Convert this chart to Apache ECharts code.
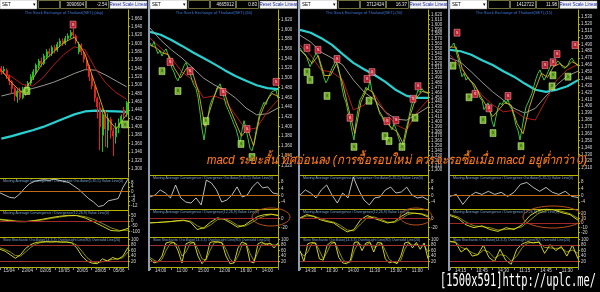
<!DOCTYPE html>
<html><head><meta charset="utf-8">
<script src="https://cdn.jsdelivr.net/npm/echarts@6/dist/echarts.min.js"></script>
<style>html,body{margin:0;padding:0;background:#000}#c{width:600px;height:292px}</style>
</head><body><div id="c"></div>
<script>
// ---------- DATA ----------
const mainTitles = ['The Stock Exchange of Thailand(SET),(day)','The Stock Exchange of Thailand(SET),(60)','The Stock Exchange of Thailand(SET),(30)','The Stock Exchange of Thailand(SET),(15)'];
const subTitles = ['Moving Average Convergence / Divergence Oscillator(5,35,5) Value Line(0)','Moving Average Convergence / Divergence(12,26,9) Value Line(0)','Slow Stochastic Oscillator(14,3,3) Overbought Line(80) Oversold Line(20)'];
const hdrVol = ['3090604','4665912','3712424','1412722'];
const hdrChg = ['-2.54','0.83','16.37','11.98'];
const noteText = 'macd ระยะสั้น ทิศอ่อนลง (การซื้อรอบใหม่ ควรจะรอซื้อเมื่อ macd อยู่ต่ำกว่า 0)';
const stampText = '[1500x591]http://uplc.me/';

// panel 1 (daily): [open, close, low, high]
const p1Ohlc = [[1540,1532,1525,1546],[1534,1538,1528,1545],[1536,1522,1515,1540],[1522,1510,1500,1526],[1508,1492,1480,1512],[1492,1475,1462,1496],[1472,1486,1458,1490],[1486,1470,1464,1494],[1470,1490,1466,1496],[1490,1482,1474,1500],[1482,1505,1478,1510],[1505,1520,1500,1526],[1518,1532,1512,1538],[1530,1548,1526,1552],[1546,1558,1540,1563],[1558,1552,1544,1566],[1552,1570,1548,1575],[1568,1580,1562,1586],[1580,1576,1568,1588],[1576,1590,1570,1595],[1590,1584,1576,1596],[1584,1598,1580,1604],[1598,1606,1592,1612],[1606,1600,1594,1612],[1600,1612,1596,1618],[1612,1618,1606,1624],[1618,1626,1612,1632],[1626,1620,1612,1636],[1618,1606,1598,1622],[1580,1598,1574,1604],[1596,1580,1572,1600],[1578,1562,1554,1582],[1560,1546,1538,1566],[1544,1520,1510,1548],[1520,1498,1490,1526],[1496,1470,1460,1500],[1468,1448,1420,1472],[1446,1400,1344,1460],[1380,1430,1340,1444],[1428,1395,1352,1440],[1392,1420,1350,1432],[1418,1392,1372,1424],[1390,1378,1330,1398],[1376,1400,1360,1410],[1398,1410,1385,1420],[1408,1425,1398,1430],[1440,1430,1420,1448],[1430,1457.9,1424,1462]];
const p1Fast = [1536,1505,1482,1515,1555,1580,1602,1615,1575,1500,1425,1395,1430];
const p1Red  = [1530,1520,1502,1498,1518,1548,1574,1592,1585,1540,1505,1482,1466];
const p1Grey = [1474,1480,1486,1492,1499,1507,1517,1528,1537,1536,1524,1510,1496];
const p1Cyan = [1372,1378,1385,1392,1400,1410,1420,1430,1437,1439,1438,1437,1436];
const p1Buy  = [[9.6,1486],[46.4,1406]];
const p1Sell = [[26.9,1645]];
const p1Osc  = [-1,-3,-5,-5.5,-2,3,7,9,10,10.5,10,11,10,9,8,5,2,-2,-6,-9,-13,-12,-8,-7,-6,4,11];
const p1MacdA = [10,2,-8,-8,2,15,30,42,50,48,25,-10,-50,-90,-95,-70];
const p1MacdB = [15,8,-2,-6,-2,8,22,35,45,49,38,12,-25,-65,-90,-88];
const p1K = [65,58,45,32,45,68,82,90,92,93,92,93,91,92,88,70,40,22,14,12,30,22,35,28,40,72];
const p1D = [70,64,55,42,40,55,72,84,90,92,92,92,92,91,90,80,58,34,20,15,20,24,28,30,34,55];
const p1Ticks = ['15/04','23/04','02/05','10/05','20/05','28/05','05/06'];

// panel 2 (60 min)
const p2Close = [1572,1565,1575,1560,1550,1556,1545,1554,1560,1548,1534,1520,1512,1500,1494,1505,1515,1525,1532,1520,1510,1495,1485,1478,1460,1430,1395,1372,1400,1420,1444,1455,1462,1470,1480,1488,1475,1460,1444,1435,1425,1415,1404,1395,1380,1362,1392,1412,1395,1375,1355,1350,1365,1390,1410,1430,1440,1450,1445,1458,1465,1472,1468,1475,1457.9];
const p2Fast = [1568,1562,1552,1548,1520,1500,1520,1510,1470,1400,1440,1480,1478,1440,1410,1380,1395,1360,1420,1450,1468,1462];
const p2Red  = [1582,1562,1541,1512,1496,1459,1463,1455,1424,1393,1397,1430,1455];
const p2Grey = [1603,1578,1558,1541,1521,1500,1486,1475,1459,1438,1424,1426,1438];
const p2Cyan = [1595,1589,1578,1566,1553,1541,1529,1516,1504,1494,1485,1479,1477];
const p2Buy  = [[6,1514],[14,1473],[28,1411],[45.5,1364],[51,1337]];
const p2Sell = [[10,1533],[20,1514],[36.5,1471],[48.5,1395],[63,1492]];
const p2Osc  = [-0.9,0.2,3.2,1.4,-1.5,6.1,-1.5,-3.9,-4.5,-1.5,-5.6,9,7.3,3.2,-3.9,-2.7,0.2,5,-0.9,0.2,5,7.9,4.4,5,1.4,0.8];
const p2MacdA = [-10,-9,-8,-7,-5,-4,-8,-24,-20,-8,1,-2,-10,-19,-15,-5,4,8,9,6];
const p2MacdB = [-9,-9,-8,-7,-6,-5,-6,-16,-22,-14,-3,0,-6,-15,-17,-10,-1,5,8,7];
const p2K = [30,15,20,40,88,92,90,60,15,85,92,90,40,12,30,90,93,92,88,40,12,15,70,92,85,20,15,85,92,80,88,70,88];
const p2D = [35,25,18,28,60,85,90,78,40,55,85,90,65,30,25,60,88,92,90,65,30,15,40,80,88,50,22,55,85,86,85,80,82];
const p2Ticks = ['14:00','11:00','15:00','12:00','16:00','14:00'];

// panel 3 (30 min)
const p3Close = [1552,1545,1548,1537,1525,1513,1522,1532,1541,1535,1520,1505,1490,1480,1488,1500,1510,1518,1527,1515,1495,1470,1450,1440,1420,1403,1380,1362,1400,1425,1445,1452,1460,1471,1465,1486,1462,1451,1440,1428,1415,1410,1400,1397,1405,1390,1383,1395,1385,1370,1358,1348,1365,1385,1400,1420,1438,1445,1451,1465,1460,1468,1462,1466,1457.9];
const p3Fast = [1548,1535,1520,1536,1495,1495,1520,1478,1425,1375,1440,1468,1460,1422,1400,1388,1378,1352,1410,1448,1462,1460];
const p3Red  = [1558,1537,1506,1502,1486,1424,1434,1455,1420,1393,1383,1420,1445];
const p3Grey = [1578,1564,1543,1531,1517,1486,1461,1445,1420,1405,1403,1416,1430];
const p3Cyan = [1589,1583,1572,1558,1539,1521,1508,1496,1482,1465,1453,1449,1449];
const p3Buy  = [[3.5,1502],[5,1486],[13.5,1453],[27,1348],[34.5,1443],[42.5,1370],[44.5,1360],[51,1348],[57.5,1408]];
const p3Sell = [[3.5,1552],[9,1548],[18.5,1529],[25,1408],[33.5,1488],[36,1502],[43.5,1401],[48,1403],[56.5,1447],[59,1473]];
const p3Osc  = [0.2,3.2,1.4,-1.5,3.2,6.1,0.2,-4.5,1.4,-1.5,10.8,3.2,-2.7,-5.6,-1.5,-0.9,3.2,4.9,1.4,2,4.9,0.2,-1.5,-0.9,-2.7];
const p3MacdA = [1,8,4,-3,-7,-10,-20,-29,-24,-3,6,0,-5,-10,-7,4,12,11,9,3];
const p3MacdB = [0,5,5,0,-5,-8,-15,-25,-27,-12,2,3,-2,-8,-9,-1,8,11,10,6];
const p3K = [60,20,85,90,88,30,25,80,92,90,35,15,12,25,90,92,60,88,92,55,90,88,30,15,20,12,40,88,92,70,90,65,88,30];
const p3D = [55,40,55,85,88,60,30,55,85,90,60,28,15,18,60,88,78,80,88,72,78,88,60,28,18,15,25,65,88,80,82,78,80,55];
const p3Ticks = ['14:30','10:30','14:00','11:30','15:00','11:00'];

// panel 4 (15 min)
const p4Close = [1485,1488,1492,1480,1470,1455,1443,1448,1438,1442,1443,1434,1428,1419,1422,1412,1409,1395,1400,1405,1395,1378,1370,1385,1398,1405,1402,1409,1404,1410,1400,1395,1385,1372,1365,1351,1368,1385,1399,1405,1412,1419,1430,1440,1448,1453,1445,1438,1443,1450,1457,1463,1458,1462,1466,1463,1458,1455,1453,1460,1467,1470,1465,1462,1457.9];
const p4Fast = [1486,1486,1455,1440,1432,1415,1400,1385,1395,1405,1402,1375,1360,1398,1425,1448,1442,1458,1462,1456,1465,1460];
const p4Red  = [1475,1456,1435,1416,1402,1392,1394,1383,1380,1409,1438,1453,1461];
const p4Grey = [1470,1464,1450,1435,1421,1409,1397,1390,1397,1415,1431,1444,1451];
const p4Cyan = [1482,1480,1475,1467,1460,1451,1443,1433,1424,1421,1424,1429,1438];
const p4Buy  = [[1.5,1459],[9.5,1413],[16.5,1380],[21.5,1361],[35.5,1342],[51,1429],[51.5,1445],[59,1443]];
const p4Sell = [[3.5,1507],[12.5,1418],[19.5,1397],[29,1415],[47.5,1460],[51.5,1464],[53.5,1476],[62.5,1489]];
const p4Osc  = [-0.6,0.6,-5.3,-0.6,1.8,0.6,2.4,0.6,1.8,-0.6,1.8,6.5,7.6,4.7,2.4,4.7,1.8,0.6,2.4,-0.6,-1.2];
const p4MacdA = [16,10,-4,-10,-6,-14,-18,-10,-14,-4,16,26,30,28,22,18,6];
const p4MacdB = [18,13,2,-6,-8,-10,-15,-14,-12,-8,6,20,27,29,25,20,10];
const p4K = [95,90,55,70,40,45,80,35,20,65,25,10,65,85,93,88,92,50,82,60,75,40,80,30];
const p4D = [92,92,72,65,52,45,62,55,32,45,42,22,40,72,88,90,90,72,70,68,70,55,62,50];
const p4Ticks = ['14:15','10:45','14:30','11:15','14:45','11:30'];

// ---------- LAYOUT ----------
const W = 128;
const X0 = [0,150,300,450];
const LAY = [
  {m:[10,177],a:[178,210],b:[210,237],c:[237,267]},
  {m:[10,175],a:[175,209],b:[209,237],c:[237,267]},
  {m:[10,175],a:[175,209],b:[209,237],c:[237,267]},
  {m:[10,175],a:[175,209],b:[209,237],c:[237,267]}
];
const YM = [[1280,1680,20],[1300,1640,20],[1290,1630,10],[1300,1540,10]];
const YA = [[-16,12,4],[-8,12,4],[-8,12,4],[-8,12,4]];
const YB = [[-150,100,50],[-40,20,20],[-40,20,20],[-30,30,10]];
const YC = [0,110,20];
const YEL = '#b4b400';

const PD = [
  {ohlc:p1Ohlc, fast:p1Fast, red:p1Red, grey:p1Grey, cyan:p1Cyan, buy:p1Buy, sell:p1Sell, osc:p1Osc, ma:p1MacdA, mb:p1MacdB, k:p1K, d:p1D, ticks:p1Ticks},
  {close:p2Close, fast:p2Fast, red:p2Red, grey:p2Grey, cyan:p2Cyan, buy:p2Buy, sell:p2Sell, osc:p2Osc, ma:p2MacdA, mb:p2MacdB, k:p2K, d:p2D, ticks:p2Ticks},
  {close:p3Close, fast:p3Fast, red:p3Red, grey:p3Grey, cyan:p3Cyan, buy:p3Buy, sell:p3Sell, osc:p3Osc, ma:p3MacdA, mb:p3MacdB, k:p3K, d:p3D, ticks:p3Ticks},
  {close:p4Close, fast:p4Fast, red:p4Red, grey:p4Grey, cyan:p4Cyan, buy:p4Buy, sell:p4Sell, osc:p4Osc, ma:p4MacdA, mb:p4MacdB, k:p4K, d:p4D, ticks:p4Ticks}
];

const fmtC = v => { const n = Math.abs(Math.round(v)); let s = String(n); if (s.length > 3) s = s.slice(0,-3) + ',' + s.slice(-3); return (v < 0 ? '-' : '') + s; };
const fmtP = v => { const p = v.toFixed(2).split('.'); return fmtC(+p[0]) + '.' + p[1]; };
const pts = (arr, xmax) => arr.map((v,i) => [i * xmax / (arr.length - 1), v]);

const grid = [], xAxis = [], yAxis = [], series = [], graphic = [];
function addGrid(left, top, bottom){ grid.push({left:left, top:top, width:W, height:bottom-top}); return grid.length-1; }
function yAx(g, mm){
  yAxis.push({type:'value', gridIndex:g, position:'right', min:mm[0], max:mm[1], interval:mm[2],
    axisLine:{show:true, onZero:false, lineStyle:{color:YEL, width:1}},
    axisTick:{show:true, length:2, lineStyle:{color:YEL}},
    axisLabel:{show:true, fontSize:4.5, color:'#d8d8d8', margin:3, formatter:fmtC, showMinLabel:false, showMaxLabel:false, fontFamily:'Liberation Sans'},
    splitLine:{show:false}});
  return yAxis.length-1;
}
function xVal(g, min, max, topLine){
  xAxis.push({type:'value', gridIndex:g, min:min, max:max, position:'top', show:!!topLine,
    axisLine:{show:!!topLine, onZero:false, lineStyle:{color:YEL, width:1}},
    axisTick:{show:false}, axisLabel:{show:false}, splitLine:{show:false}});
  return xAxis.length-1;
}
function line(xi, yi, data, color, width, z){
  return {type:'line', xAxisIndex:xi, yAxisIndex:yi, data:data, showSymbol:false, symbol:'none', silent:true,
    lineStyle:{color:color, width:width}, itemStyle:{color:color}, z:z||2, animation:false};
}
function marks(xi, yi, data, buy){
  return {type:'scatter', xAxisIndex:xi, yAxisIndex:yi, data:data, symbol:'rect', symbolSize:[6,7], silent:true, z:6,
    itemStyle:{color: buy ? '#92d83c' : '#e8283c', borderColor: buy ? '#d8ffa8' : '#ffb0b8', borderWidth:0.6},
    label:{show:true, position:'inside', formatter: buy ? 'B' : 'S', fontSize:4, color: buy ? '#1e4a00' : '#ffffff'}};
}
function hline(val, color){
  return {yAxis:val, lineStyle:{color:color, width:1, type:'solid'}};
}

PD.forEach((p, k) => {
  const x0 = X0[k], L = LAY[k];
  const gm = addGrid(x0, L.m[0], L.m[1]);
  const ym = yAx(gm, YM[k]);
  let xv, n;
  const lastLbl = {silent:true, symbol:'none', data:[{yAxis:1457.9}], lineStyle:{opacity:0},
    label:{show:true, position:'end', distance:1, formatter: () => fmtP(1457.9), backgroundColor:'#eeeeee', color:'#000', fontSize:4.5, padding:[1,1,0,1]}};
  if (p.ohlc) {
    n = p.ohlc.length;
    xv = xVal(gm, -0.5, n - 0.5, false);
    xAxis.push({type:'category', gridIndex:gm, data:p.ohlc.map((_, i) => i), show:false, boundaryGap:true});
    const xc = xAxis.length-1;
    series.push({type:'candlestick', xAxisIndex:xc, yAxisIndex:ym, data:p.ohlc, barWidth:'62%', silent:true, z:3,
      itemStyle:{color:'#1fc41f', color0:'#e8201c', borderColor:'#1fc41f', borderColor0:'#e8201c', borderWidth:1},
      markLine:lastLbl});
  } else {
    n = p.close.length;
    xv = xVal(gm, 0, n - 1, false);
    const s = line(xv, ym, pts(p.close, n-1), '#3cc43c', 1, 3);
    s.markLine = lastLbl;
    series.push(s);
  }
  series.push(line(xv, ym, pts(p.cyan, n-1), '#2ad0d0', 2.2, 2));
  series.push(line(xv, ym, pts(p.grey, n-1), '#a8a8a0', 0.9, 2));
  series.push(line(xv, ym, pts(p.red, n-1), '#c81e1e', 0.9, 2));
  series.push(line(xv, ym, pts(p.fast, n-1), '#e0b020', 0.9, 4));
  series.push(marks(xv, ym, p.buy, true));
  series.push(marks(xv, ym, p.sell, false));

  const ga = addGrid(x0, L.a[0], L.a[1]);
  const ya = yAx(ga, YA[k]);
  const xa = xVal(ga, 0, 1, true);
  const sa = line(xa, ya, pts(p.osc, 1), '#e8e8e8', 0.8, 3);
  sa.markLine = {silent:true, symbol:'none', label:{show:false}, data:[hline(0, '#c06a18')]};
  series.push(sa);

  const gb = addGrid(x0, L.b[0], L.b[1]);
  const yb = yAx(gb, YB[k]);
  const xb = xVal(gb, 0, 1, true);
  const sb = line(xb, yb, pts(p.mb, 1), '#9a9a10', 0.9, 3);
  sb.markLine = {silent:true, symbol:'none', label:{show:false}, data:[hline(0, '#a02828')]};
  series.push(sb);
  series.push(line(xb, yb, pts(p.ma, 1), '#e6e626', 0.9, 4));

  const gc = addGrid(x0, L.c[0], L.c[1]);
  const yc = yAx(gc, YC);
  const xc2 = xVal(gc, 0, 1, true);
  xAxis.push({type:'category', gridIndex:gc, position:'bottom', data:p.ticks, boundaryGap:true,
    axisLine:{show:true, onZero:false, lineStyle:{color:YEL}}, axisTick:{show:true, length:3, lineStyle:{color:'#888'}},
    axisLabel:{show:true, fontSize:4.5, color:'#d8d8d8', margin:1.5, fontFamily:'Liberation Sans'}, splitLine:{show:false}});
  const sc = line(xc2, yc, pts(p.d, 1), '#9a9a10', 0.9, 3);
  sc.markLine = {silent:true, symbol:'none', label:{show:false}, data:[hline(80, '#a03030'), hline(20, '#a03030')]};
  series.push(sc);
  series.push(line(xc2, yc, pts(p.k, 1), '#e6e626', 0.9, 4));

  graphic.push({type:'rect', shape:{x:x0, y:0, width:37, height:9}, style:{fill:'#ffffff', stroke:'#888', lineWidth:0.5}, silent:true});
  graphic.push({type:'text', x:x0+2, y:4.5, style:{text:'SET', fill:'#000', fontSize:4.5, fontFamily:'Liberation Sans', verticalAlign:'middle'}, silent:true});
  graphic.push({type:'text', x:x0+34, y:4.5, style:{text:'▾', fill:'#000', fontSize:5, align:'center', verticalAlign:'middle'}, silent:true});
  [[38,22],[60,26],[86,23]].forEach(b => graphic.push({type:'rect', shape:{x:x0+b[0]+0.5, y:0.5, width:b[1]-1, height:8}, style:{fill:'#000', stroke:'#8c8c48', lineWidth:0.8}, silent:true}));
  graphic.push({type:'text', x:x0+84, y:4.7, style:{text:hdrVol[k], fill:'#e8e8e8', fontSize:4.5, fontFamily:'Liberation Sans', align:'right', verticalAlign:'middle'}, silent:true});
  graphic.push({type:'text', x:x0+107, y:4.7, style:{text:hdrChg[k], fill:'#e8e8e8', fontSize:4.5, fontFamily:'Liberation Sans', align:'right', verticalAlign:'middle'}, silent:true});
  graphic.push({type:'rect', shape:{x:x0+110, y:1, width:37, height:7.5}, style:{fill:'#f4f4f4', stroke:'#aaa', lineWidth:0.5}, silent:true});
  graphic.push({type:'text', x:x0+128.5, y:4.9, style:{text:'Reset Scale Linear', fill:'#1a2aa8', fontSize:4.5, fontFamily:'Liberation Sans', align:'center', verticalAlign:'middle'}, silent:true});
  graphic.push({type:'text', x:x0+64, y:13, style:{text:mainTitles[k], fill:'#3c78d8', fontSize:4, fontFamily:'Liberation Sans', align:'center', verticalAlign:'middle'}, silent:true});
  [L.a[0], L.b[0], L.c[0]].forEach((t, j) => graphic.push({type:'text', x:x0+3, y:t+3, style:{text:subTitles[j], fill:'#7aa6d6', fontSize:3.6, fontFamily:'Liberation Sans', verticalAlign:'middle'}, silent:true}));
});

[148, 298, 448].forEach(x => graphic.push({type:'rect', shape:{x:x, y:0, width:2, height:271}, style:{fill:'#8d9cb0'}, silent:true, z:10}));
[[271,217,19,9],[416,216.5,16,8.5],[553,217,30,11]].forEach(e => graphic.push({type:'ellipse', shape:{cx:e[0], cy:e[1], rx:e[2], ry:e[3]}, style:{fill:'none', stroke:'#b8501a', lineWidth:1}, silent:true, z:20}));
graphic.push({type:'text', x:207, y:160, scaleX:0.87, style:{text:noteText, fill:'#ff7c1c', fontSize:13, fontStyle:'italic', verticalAlign:'middle', stroke:'#3a1800', lineWidth:0.5}, silent:true, z:30});
graphic.push({type:'text', x:440, y:282, scaleX:0.61, style:{text:stampText, fill:'#ffffff', fontSize:17, fontFamily:'DejaVu Sans Mono', verticalAlign:'middle'}, silent:true, z:30});

const chart = echarts.init(document.getElementById('c'), null, {renderer:'canvas'});
chart.setOption({backgroundColor:'#000', animation:false, grid:grid, xAxis:xAxis, yAxis:yAxis, series:series, graphic:{elements:graphic}});
</script></body></html>
